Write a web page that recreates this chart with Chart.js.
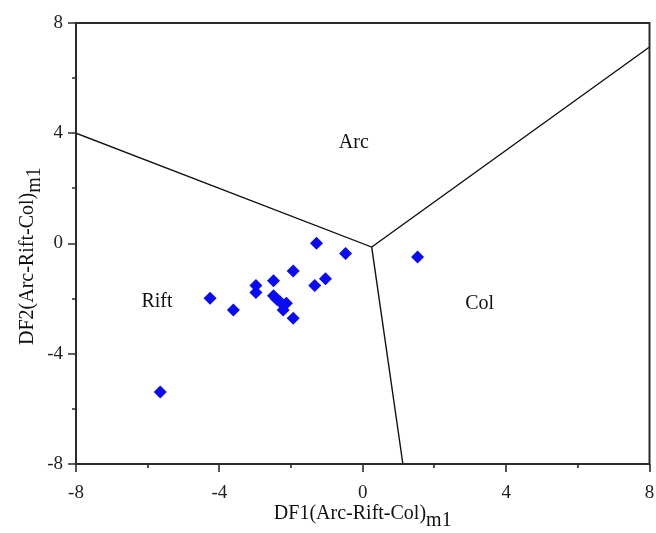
<!DOCTYPE html>
<html>
<head>
<meta charset="utf-8">
<script src="https://cdn.jsdelivr.net/npm/chart.js@4.4.1/dist/chart.umd.min.js"></script>
<style>
  html, body { margin: 0; padding: 0; background: #fff; }
  #wrap { width: 656px; height: 533px; position: relative; }
</style>
</head>
<body>
<div id="wrap"><canvas id="df"></canvas></div>
<script>
// sample points, DF1 / DF2
const df1 = [-1.29, -0.48, 1.53, -1.94, -1.04, -1.34, -2.49, -2.98, -2.98, -4.26, -3.61, -2.49, -2.40, -2.31, -2.13, -2.22, -1.94, -5.65];
const df2 = [0.01, -0.36, -0.49, -1.00, -1.28, -1.52, -1.35, -1.52, -1.78, -1.99, -2.41, -1.90, -2.02, -2.11, -2.17, -2.41, -2.71, -5.39];

// field boundaries (meet at the junction)
const junction = [0.25, -0.13];
const arcRiftEnd = [-8, 4];
const arcColEnd = [8, 7.13];
const riftColEnd = [1.12, -8];

// field names
const fieldNames = ['Arc', 'Rift', 'Col'];
const fieldX = [-0.25, -5.74, 3.26];
const fieldY = [3.65, -2.12, -2.2];

const axisTicks = [-8, -4, 0, 4, 8];
const minorTicks = [-6, -2, 2, 6];

const serif = '"Liberation Serif", "DejaVu Serif", serif';
const pt = (a) => ({ x: a[0], y: a[1] });

// ticks, frame, field names and axis titles with subscripts
const decor = {
  id: 'decor',
  afterDraw(chart) {
    const { ctx, chartArea: a, scales: { x, y } } = chart;
    ctx.save();
    ctx.strokeStyle = '#2b2b2b';
    ctx.lineWidth = 2;
    ctx.strokeRect(a.left, a.top, a.right - a.left, a.bottom - a.top);

    ctx.lineWidth = 1.6;
    ctx.beginPath();
    axisTicks.forEach(v => {
      const px = Math.round(x.getPixelForValue(v));
      ctx.moveTo(px, a.bottom); ctx.lineTo(px, a.bottom + 8);
      const py = Math.round(y.getPixelForValue(v));
      ctx.moveTo(a.left, py); ctx.lineTo(a.left - 8, py);
    });
    minorTicks.forEach(v => {
      const px = Math.round(x.getPixelForValue(v));
      ctx.moveTo(px, a.bottom); ctx.lineTo(px, a.bottom + 4);
      const py = Math.round(y.getPixelForValue(v));
      ctx.moveTo(a.left, py); ctx.lineTo(a.left - 4, py);
    });
    ctx.stroke();

    ctx.fillStyle = '#111';
    ctx.font = '20px ' + serif;
    ctx.textAlign = 'center';
    ctx.textBaseline = 'middle';
    fieldNames.forEach((n, i) => {
      ctx.fillText(n, x.getPixelForValue(fieldX[i]), y.getPixelForValue(fieldY[i]));
    });

    // x title
    ctx.textBaseline = 'alphabetic';
    ctx.textAlign = 'left';
    const main1 = 'DF1(Arc-Rift-Col)', sub = 'm1';
    const w1 = ctx.measureText(main1).width, ws = ctx.measureText(sub).width;
    const cx = (a.left + a.right) / 2;
    let sx = cx - (w1 + ws) / 2;
    ctx.fillText(main1, sx, 519);
    ctx.fillText(sub, sx + w1, 526);

    // y title
    ctx.save();
    ctx.translate(33, 345);
    ctx.rotate(-Math.PI / 2);
    const main2 = 'DF2(Arc-Rift-Col)';
    const w2 = ctx.measureText(main2).width;
    ctx.fillText(main2, 0, 0);
    ctx.fillText(sub, w2, 7);
    ctx.restore();
    ctx.restore();
  }
};

const tickFont = { family: serif, size: 19 };

new Chart(document.getElementById('df'), {
  type: 'scatter',
  data: {
    datasets: [
      {
        data: df1.map((v, i) => ({ x: v, y: df2[i] })),
        pointStyle: 'rectRot',
        pointRadius: 6.5,
        backgroundColor: '#0a0af5',
        borderColor: '#0a0af5',
        borderWidth: 0,
        order: 0
      },
      {
        data: [pt(arcRiftEnd), pt(junction), pt(arcColEnd)],
        showLine: true,
        pointRadius: 0,
        borderColor: '#111',
        borderWidth: 1.4,
        tension: 0,
        order: 1
      },
      {
        data: [pt(junction), pt(riftColEnd)],
        showLine: true,
        pointRadius: 0,
        borderColor: '#111',
        borderWidth: 1.4,
        tension: 0,
        order: 1
      }
    ]
  },
  options: {
    responsive: true,
    maintainAspectRatio: false,
    animation: false,
    layout: { padding: { left: 0, right: 6, top: 23, bottom: 0 } },
    plugins: { legend: { display: false }, tooltip: { enabled: false } },
    scales: {
      x: {
        type: 'linear', min: -8, max: 8,
        afterBuildTicks: (s) => { s.ticks = axisTicks.map(v => ({ value: v })); },
        afterFit: (s) => { s.height = 69; s.paddingLeft = 0; s.paddingRight = 0; },
        ticks: { font: tickFont, color: '#222', padding: 10, maxRotation: 0 },
        grid: { display: false },
        border: { display: false }
      },
      y: {
        type: 'linear', min: -8, max: 8,
        afterBuildTicks: (s) => { s.ticks = axisTicks.map(v => ({ value: v })); },
        afterFit: (s) => { s.width = 76; s.paddingTop = 0; s.paddingBottom = 0; },
        ticks: { font: tickFont, color: '#222', padding: 5 },
        grid: { display: false },
        border: { display: false }
      }
    }
  },
  plugins: [decor]
});
</script>
</body>
</html>
